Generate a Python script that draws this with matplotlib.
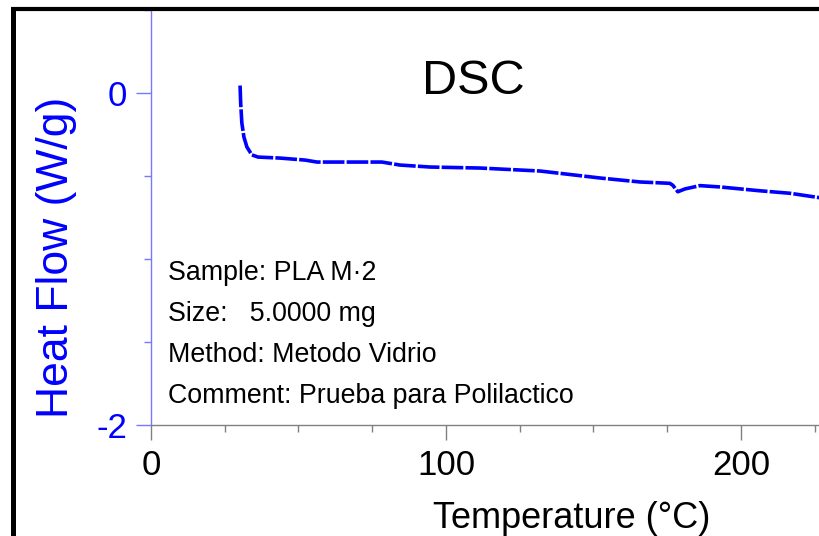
import matplotlib
matplotlib.use("Agg")
import matplotlib.pyplot as plt
from matplotlib.lines import Line2D
from matplotlib.ticker import MultipleLocator

plt.rcParams['font.family'] = ['Liberation Sans', 'DejaVu Sans']
plt.rcParams['axes.unicode_minus'] = False

# Data
temperature = [30.2, 30.4, 30.8, 31.5, 32.5, 34.2, 36.3, 43.7, 52.2, 56.3, 67.5, 78.3,
               84.4, 94.6, 111.5, 131.9, 152.2, 165.8, 175.9, 176.9, 178.6, 181.0,
               186.1, 192.9, 206.4, 216.6, 226.8]
heat_flow = [0.045, -0.060, -0.181, -0.265, -0.325, -0.373, -0.386, -0.392, -0.404,
             -0.416, -0.416, -0.416, -0.434, -0.446, -0.452, -0.470, -0.512, -0.536,
             -0.544, -0.556, -0.595, -0.578, -0.558, -0.566, -0.589, -0.604, -0.631]

title = "DSC"
x_label = "Temperature (°C)"
y_label = "Heat Flow (W/g)"
x_ticks = [0, 100, 200]
y_ticks = [0, -2]
info_lines = ["Sample: PLA M·2", "Size:   5.0000 mg", "Method: Metodo Vidrio",
              "Comment: Prueba para Polilactico"]

W, H = 820, 536
fig = plt.figure(figsize=(W / 100, H / 100), dpi=100)
ax = fig.add_axes([151 / W, 1 - 425 / H, 1 - 151 / W, (425 - 10) / H])

ax.plot(temperature, heat_flow, color='#0000FF', lw=2.6, linestyle=(0, (6, 0.6)))

ax.set_xlim(0, 226.8)
ax.set_ylim(-2, 0.5)
ax.set_xticks(x_ticks)
ax.set_yticks(y_ticks)
ax.xaxis.set_minor_locator(MultipleLocator(25))
ax.yaxis.set_minor_locator(MultipleLocator(0.5))

for s in ['top', 'right']:
    ax.spines[s].set_visible(False)
ax.spines['left'].set_color('#7878FF')
ax.spines['left'].set_linewidth(1.0)
ax.spines['bottom'].set_color('#808080')
ax.spines['bottom'].set_linewidth(1.0)

ax.tick_params(axis='x', which='major', length=11, width=1, color='#808080',
               labelsize=25, labelcolor='black', pad=6)
ax.tick_params(axis='x', which='minor', length=5, width=1, color='#808080')
ax.tick_params(axis='y', which='major', length=11, width=1, color='#7878FF',
               labelsize=25, labelcolor='#0000FF', pad=6)
ax.tick_params(axis='y', which='minor', length=5, width=1, color='#7878FF')

fig.text(473 / W, 1 - 94 / H, title, fontsize=35, color='black',
         ha='center', va='baseline')
fig.text(572 / W, 1 - 528 / H, x_label, fontsize=26, color='black',
         ha='center', va='baseline')
fig.text(57 / W, 1 - 257 / H, y_label, fontsize=32, color='#0000FF',
         ha='center', va='center', rotation=90)

for i, line in enumerate(info_lines):
    fig.text(168 / W, 1 - (273 + 41 * i) / H, line, fontsize=19.3, color='black',
             ha='left', va='center')

# Frame lines (left and top)
fig.add_artist(Line2D([13.5 / W, 13.5 / W], [0, 1 - 7 / H], transform=fig.transFigure,
                      color='black', lw=3.6, solid_capstyle='butt'))
fig.add_artist(Line2D([11 / W, 1], [1 - 9 / H, 1 - 9 / H], transform=fig.transFigure,
                      color='black', lw=3.0, solid_capstyle='butt'))

fig.savefig("out.png", dpi=100)
